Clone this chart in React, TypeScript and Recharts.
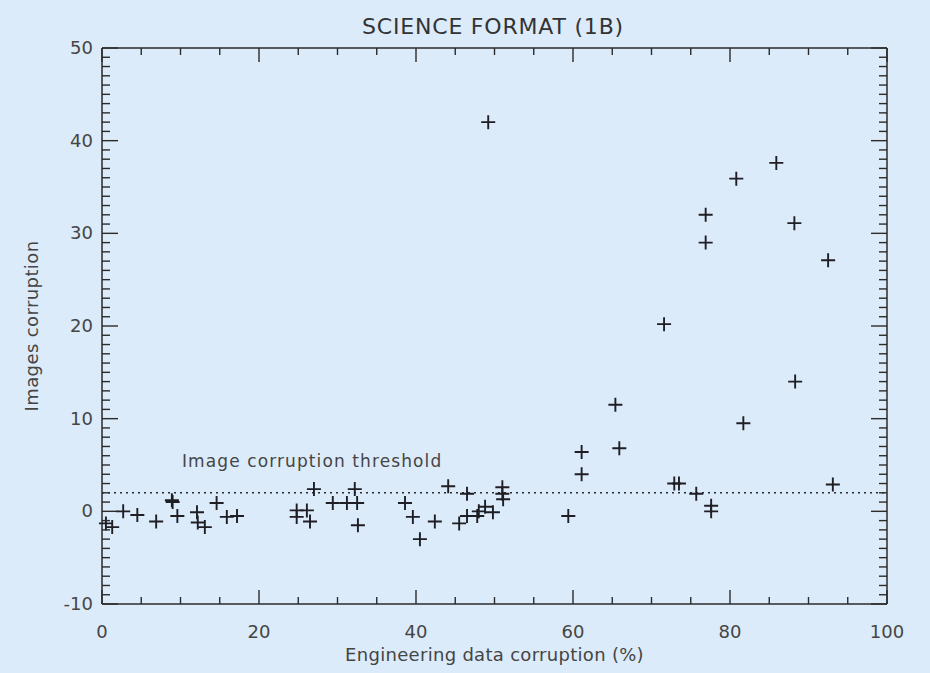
import { ReferenceLine, Scatter, ScatterChart, XAxis, YAxis } from "recharts";

// engineering data corruption (%) vs image corruption
const engineering = [
  0.5, 1.3, 2.7, 4.5, 6.9, 8.9, 9.0, 9.6, 12.1, 12.2, 13.1, 14.6, 15.9, 17.2,
  24.8, 24.8, 26.1, 26.5, 27.0, 29.4, 31.2, 32.2, 32.5, 32.6, 38.6, 39.6, 40.5,
  42.4, 44.1, 45.5, 46.5, 46.5, 47.8, 48.0, 48.8, 49.8, 51.0, 51.0, 51.1, 49.2,
  59.4, 61.1, 61.1, 65.4, 65.9, 71.6, 72.9, 73.5, 75.7, 76.9, 76.9, 77.6, 77.6,
  80.8, 81.7, 85.9, 88.2, 88.3, 92.5, 93.1,
];
const images = [
  -1.3, -1.7, 0, -0.4, -1.1, 1.2, 1.0, -0.5, -0.1, -1.2, -1.7, 0.9, -0.6, -0.5,
  0.1, -0.6, 0.1, -1.1, 2.4, 0.9, 0.9, 2.4, 0.9, -1.5, 0.9, -0.6, -3.0, -1.1,
  2.7, -1.3, 1.9, -0.5, -0.5, 0, 0.5, -0.1, 2.6, 1.9, 1.3, 42.0, -0.5, 6.4, 4.0,
  11.5, 6.8, 20.2, 3.0, 3.0, 1.9, 32.0, 29.0, 0.6, 0, 35.9, 9.5, 37.6, 31.1,
  14.0, 27.1, 2.9,
];
const threshold = 2;
const xTicks = [0, 5, 10, 15, 20, 25, 30, 35, 40, 45, 50, 55, 60, 65, 70, 75, 80, 85, 90, 95, 100];
const xLabels = [0, 20, 40, 60, 80, 100];
const yLabels = [-10, 0, 10, 20, 30, 40, 50];
const yTicks = Array.from({ length: 61 }, (_, i) => i - 10);

const data = engineering.map((x, i) => ({ x, y: images[i] }));

const BG = "#dcebf9";
const INK = "#2b2b2b";
const TEXT = "#454545";
const FONT = "DejaVu Sans, sans-serif";

function Cross(props: any) {
  const { cx, cy } = props;
  if (cx == null || cy == null) return null;
  return (
    <path
      d={`M${cx - 7},${cy}H${cx + 7}M${cx},${cy - 7}V${cy + 7}`}
      stroke="#1e1e24"
      strokeWidth={1.9}
      fill="none"
    />
  );
}

const Nothing = () => <g />;

function BottomTick({ x, y, payload }: any) {
  const v = payload.value;
  const major = xLabels.includes(v);
  return (
    <g>
      <line x1={x} x2={x} y1={y} y2={y - (major ? 14 : 7)} stroke={INK} strokeWidth={1.4} />
      {major && (
        <text x={x} y={y + 34} textAnchor="middle" fontSize={18} fill={TEXT} fontFamily={FONT}>
          {v}
        </text>
      )}
    </g>
  );
}

function TopTick({ x, y, payload }: any) {
  const major = xLabels.includes(payload.value);
  return <line x1={x} x2={x} y1={y} y2={y + (major ? 14 : 7)} stroke={INK} strokeWidth={1.4} />;
}

function LeftTick({ x, y, payload }: any) {
  const v = payload.value;
  const major = yLabels.includes(v);
  return (
    <g>
      <line x1={x} x2={x + (major ? 16 : 8)} y1={y} y2={y} stroke={INK} strokeWidth={1.4} />
      {major && (
        <text x={x - 9} y={y + 6} textAnchor="end" fontSize={18} fill={TEXT} fontFamily={FONT}>
          {v}
        </text>
      )}
    </g>
  );
}

function RightTick({ x, y, payload }: any) {
  const major = yLabels.includes(payload.value);
  return <line x1={x} x2={x - (major ? 16 : 8)} y1={y} y2={y} stroke={INK} strokeWidth={1.4} />;
}

export default function App() {
  return (
    <div style={{ position: "relative", width: 930, height: 673, background: BG }}>
      <style>{"body{margin:0}"}</style>
      <div
        style={{
          position: "absolute",
          left: 0,
          width: 986,
          top: 14,
          textAlign: "center",
          fontFamily: FONT,
          fontSize: 22,
          letterSpacing: 0.8,
          color: "#333",
        }}
      >
        SCIENCE FORMAT (1B)
      </div>
      <ScatterChart width={930} height={673} margin={{ top: 47, right: 42, bottom: 0, left: 0 }}>
        <XAxis
          xAxisId="bottom"
          dataKey="x"
          type="number"
          domain={[0, 100]}
          ticks={xTicks}
          interval={0}
          height={69}
          tickSize={0}
          tickMargin={0}
          tick={<BottomTick />}
          axisLine={{ stroke: INK, strokeWidth: 1.5 }}
          label={({ viewBox }: any) => (
            <text
              x={viewBox.x + viewBox.width / 2}
              y={viewBox.y + 57}
              textAnchor="middle"
              fontSize={18}
              letterSpacing={0.3}
              fill={TEXT}
              fontFamily={FONT}
            >
              Engineering data corruption (%)
            </text>
          )}
        />
        <XAxis
          xAxisId="top"
          dataKey="x"
          orientation="top"
          type="number"
          domain={[0, 100]}
          ticks={xTicks}
          interval={0}
          height={1}
          tickSize={0}
          tickMargin={0}
          tick={<TopTick />}
          axisLine={{ stroke: INK, strokeWidth: 1.5 }}
        />
        <YAxis
          yAxisId="left"
          dataKey="y"
          type="number"
          domain={[-10, 50]}
          ticks={yTicks}
          interval={0}
          width={102}
          tickSize={0}
          tickMargin={0}
          tick={<LeftTick />}
          axisLine={{ stroke: INK, strokeWidth: 1.5 }}
          label={({ viewBox }: any) => {
            const cx = 38;
            const cy = viewBox.y + viewBox.height / 2;
            return (
              <text
                x={cx}
                y={cy}
                transform={`rotate(-90, ${cx}, ${cy})`}
                textAnchor="middle"
                fontSize={18}
                letterSpacing={0.4}
                fill={TEXT}
                fontFamily={FONT}
              >
                Images corruption
              </text>
            );
          }}
        />
        <YAxis
          yAxisId="right"
          dataKey="y"
          orientation="right"
          type="number"
          domain={[-10, 50]}
          ticks={yTicks}
          interval={0}
          width={1}
          tickSize={0}
          tickMargin={0}
          tick={<RightTick />}
          axisLine={{ stroke: INK, strokeWidth: 1.5 }}
        />
        <ReferenceLine
          xAxisId="bottom"
          yAxisId="left"
          y={threshold}
          stroke={INK}
          strokeWidth={1.6}
          strokeDasharray="2 4"
          label={({ viewBox }: any) => (
            <text
              x={viewBox.x + 80}
              y={viewBox.y - 26}
              fontSize={17}
              letterSpacing={1.1}
              fill={TEXT}
              fontFamily={FONT}
            >
              Image corruption threshold
            </text>
          )}
        />
        <Scatter
          xAxisId="bottom"
          yAxisId="left"
          data={data}
          shape={<Cross />}
          isAnimationActive={false}
        />
        <Scatter
          xAxisId="top"
          yAxisId="right"
          data={data}
          shape={<Nothing />}
          isAnimationActive={false}
        />
      </ScatterChart>
    </div>
  );
}
